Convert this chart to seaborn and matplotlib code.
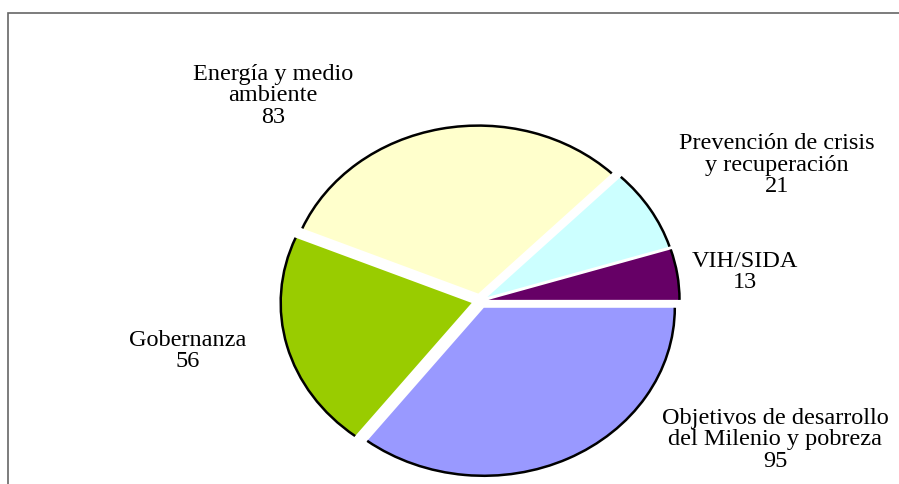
import numpy as np
import matplotlib.pyplot as plt
import seaborn as sns
from matplotlib.patches import Arc, Rectangle

## Dados
categorias = ['VIH/SIDA',
              'Prevención de crisis\ny recuperación',
              'Energía y medio\nambiente',
              'Gobernanza',
              'Objetivos de desarrollo\ndel Milenio y pobreza']
valores = [13, 21, 83, 56, 95]
cores = ['#660066', '#CCFFFF', '#FFFFCC', '#99CC00', '#9999FF']

## Posição dos rótulos (pixels, a partir do topo)
pos_rotulos = [(745, 272), (777, 165), (273, 96), (188, 351), (775, 440)]

sns.set_theme(style='white')
plt.rcParams['font.family'] = ['Liberation Serif', 'DejaVu Serif']

W, H = 899, 485
fig = plt.figure(figsize=(W / 100, H / 100), dpi=100)

# pizza elíptica: centro (480, 302) px, semi-eixos 191 x 168
cx, cy, a, b, L = 480, 302, 191, 168, 1.2
ax = fig.add_axes([(cx - a * L) / W, (H - cy - b * L) / H, 2 * a * L / W, 2 * b * L / H])
wedges, _ = ax.pie(valores, colors=cores, startangle=0, counterclock=True,
                   explode=[0.045] * len(valores), wedgeprops=dict(linewidth=0))
ax.set_aspect('auto')
ax.set_xlim(-L, L)
ax.set_ylim(-L, L)
ax.axis('off')

# contorno preto só no arco externo
for w in wedges:
    ax.add_patch(Arc(w.center, 2 * w.r, 2 * w.r, theta1=w.theta1, theta2=w.theta2,
                     color='black', lw=1.8))

# rótulos
for cat, val, (px, py) in zip(categorias, valores, pos_rotulos):
    fig.text(px / W, 1 - py / H, f'{cat}\n{val}', ha='center', va='center',
             multialignment='center', fontsize=17.5, linespacing=1.05, color='black')

# moldura
fig.add_artist(Rectangle((8 / W, -0.1), 1.2, 1.1 - 14 / H, transform=fig.transFigure,
                         fill=False, edgecolor='#666666', lw=1.2))

fig.savefig('out.png', dpi=100)
